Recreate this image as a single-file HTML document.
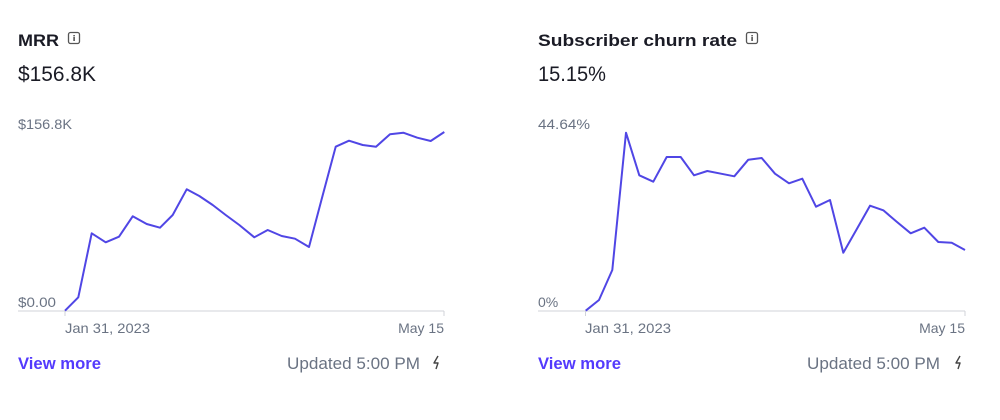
<!DOCTYPE html>
<html><head><meta charset="utf-8"><style>
html,body{margin:0;padding:0;background:#fff;}
svg{display:block;font-family:"Liberation Sans",Arial,sans-serif;}
</style></head><body>
<svg width="1000" height="420" viewBox="0 0 1000 420" xmlns="http://www.w3.org/2000/svg">
<g>
<text x="18" y="46" font-size="17" font-weight="bold" fill="#1a1b25" textLength="41" lengthAdjust="spacingAndGlyphs">MRR</text>
<rect x="68.5" y="32.5" width="11" height="11" rx="2" fill="none" stroke="#555" stroke-width="1.3"/>
<rect x="73.3" y="37" width="1.6" height="4" fill="#555"/><rect x="73.3" y="35" width="1.6" height="1.4" fill="#555"/>
<text x="18" y="81" font-size="21" fill="#1a1b25" textLength="78" lengthAdjust="spacingAndGlyphs">$156.8K</text>
<text x="18" y="129" font-size="14" fill="#6a7383" textLength="54" lengthAdjust="spacingAndGlyphs">$156.8K</text>
<text x="18" y="307" font-size="14" fill="#6a7383" textLength="38" lengthAdjust="spacingAndGlyphs">$0.00</text>
<line x1="18" y1="311" x2="444" y2="311" stroke="#d0d3d9" stroke-width="1"/>
<line x1="65" y1="311" x2="65" y2="316" stroke="#d0d3d9"/><line x1="444" y1="311" x2="444" y2="316" stroke="#d0d3d9"/>
<text x="65" y="333" font-size="14" fill="#6a7383" textLength="85" lengthAdjust="spacingAndGlyphs">Jan 31, 2023</text>
<text x="444" y="333" font-size="14" fill="#6a7383" text-anchor="end">May 15</text>
<polyline fill="none" stroke="#5046e5" stroke-width="2" stroke-linejoin="round" points="65,310.7 78.3,297.3 91.7,233.3 105.7,242.3 119,236.7 132.7,216.3 146.7,224 160,227.7 172.7,215 186.7,189.3 199.3,196 212.7,205 225.7,215 239.3,225 254.3,237.3 267.7,230 281.7,236 295,238.7 309,247 322.3,196.7 335.7,146.7 349,140.7 362.7,145 376,146.7 390,134.3 403.3,132.7 417.3,137.7 430.7,141 444.3,132"/>
<text x="18" y="369" font-size="16.5" font-weight="bold" fill="#533afd" textLength="83" lengthAdjust="spacingAndGlyphs">View more</text>
<text x="287" y="369" font-size="16.5" fill="#6a7383" textLength="133" lengthAdjust="spacingAndGlyphs">Updated 5:00 PM</text>
<path d="M438 356 L434 363 L438 363 L436 369" fill="none" stroke="#444" stroke-width="1.4" stroke-linejoin="round"/>
</g>
<g>
<text x="538" y="46" font-size="17" font-weight="bold" fill="#1a1b25" textLength="199" lengthAdjust="spacingAndGlyphs">Subscriber churn rate</text>
<rect x="746.5" y="32.5" width="11" height="11" rx="2" fill="none" stroke="#555" stroke-width="1.3"/>
<rect x="751.3" y="37" width="1.6" height="4" fill="#555"/><rect x="751.3" y="35" width="1.6" height="1.4" fill="#555"/>
<text x="538" y="81" font-size="21" fill="#1a1b25" textLength="68" lengthAdjust="spacingAndGlyphs">15.15%</text>
<text x="538" y="129" font-size="14" fill="#6a7383" textLength="52" lengthAdjust="spacingAndGlyphs">44.64%</text>
<text x="538" y="307" font-size="14" fill="#6a7383">0%</text>
<line x1="538" y1="311" x2="965" y2="311" stroke="#d0d3d9" stroke-width="1"/>
<line x1="585.5" y1="311" x2="585.5" y2="316" stroke="#d0d3d9"/><line x1="965" y1="311" x2="965" y2="316" stroke="#d0d3d9"/>
<text x="585" y="333" font-size="14" fill="#6a7383" textLength="86" lengthAdjust="spacingAndGlyphs">Jan 31, 2023</text>
<text x="965" y="333" font-size="14" fill="#6a7383" text-anchor="end">May 15</text>
<polyline fill="none" stroke="#5046e5" stroke-width="2" stroke-linejoin="round" points="585.7,310.7 599,300 612.3,270 626,132.7 639.3,175.3 653.3,181.7 666.7,157 680.7,157 694,175.3 707.3,171 721,173.7 734.3,176.3 748.3,159.7 761.7,158 775,173.7 789,183.3 802.3,178.7 816,206.7 830,200 843.3,252.7 856.7,229.3 870,205.7 883.3,210.3 896.7,221.7 910.7,233.3 924.3,227.7 938.3,242 951.7,242.7 965,250"/>
<text x="538" y="369" font-size="16.5" font-weight="bold" fill="#533afd" textLength="83" lengthAdjust="spacingAndGlyphs">View more</text>
<text x="807" y="369" font-size="16.5" fill="#6a7383" textLength="133" lengthAdjust="spacingAndGlyphs">Updated 5:00 PM</text>
<path d="M960 356 L956 363 L960 363 L958 369" fill="none" stroke="#444" stroke-width="1.4" stroke-linejoin="round"/>
</g>
</svg>
</body></html>
